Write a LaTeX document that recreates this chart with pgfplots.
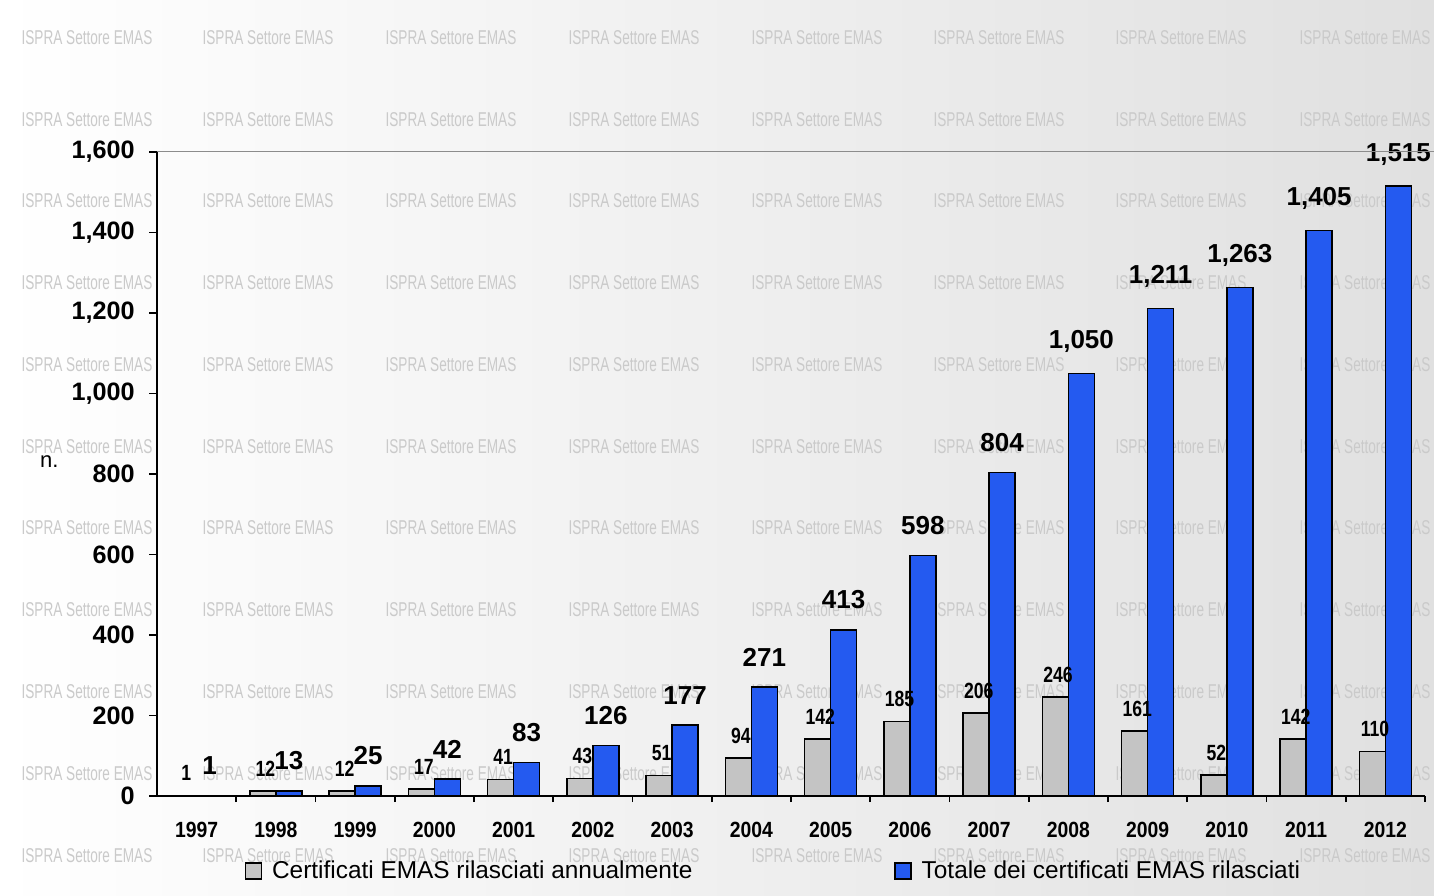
\documentclass[border=0pt]{standalone}
\usepackage{fontspec}
\setmainfont{Liberation Sans}
\usepackage{pgfplots}
\pgfplotsset{compat=1.18}

\definecolor{annualfill}{RGB}{196,196,196}
\definecolor{totalfill}{RGB}{36,90,240}
\definecolor{wmark}{RGB}{202,202,202}

% annual certificates and running total, 1997-2012 (x = 0..15)
\pgfplotstableread{
x annual total
0 1 1
1 12 13
2 12 25
3 17 42
4 41 83
5 43 126
6 51 177
7 94 271
8 142 413
9 185 598
10 206 804
11 246 1050
12 161 1211
13 52 1263
14 142 1405
15 110 1515
}\emasdata

\begin{document}
\begin{tikzpicture}
\useasboundingbox (0,0) rectangle (717pt,447.5pt);
% background: white on the left fading to light grey on the right
\shade[left color=white, right color={rgb,255:red,224;green,224;blue,224}] (0,0) rectangle (717pt,447.5pt);
% repeated watermark
\foreach \cx in {87,268,451,634,817,999,1181,1365}{
  \foreach \cy in {38,120,201,283,365,447,528,610,692,774,856}{
    \node[text=wmark, xscale=0.68, inner sep=0pt, font=\fontsize{10}{10}\selectfont]
      at (\cx*0.5pt, 447.5pt-\cy*0.5pt) {ISPRA Settore EMAS};
  }
}
\begin{axis}[
  at={(78.5pt,49.5pt)}, anchor=south west,
  scale only axis, width=634pt, height=322pt,
  xmin=-0.5, xmax=15.5, ymin=0, ymax=1600,
  axis x line*=bottom, axis y line*=left,
  axis line style={line width=0.8pt, black},
  tick align=outside,
  major tick length=4pt, minor tick length=3pt,
  xtick={0,...,15},
  xticklabels={1997,1998,1999,2000,2001,2002,2003,2004,2005,2006,2007,2008,2009,2010,2011,2012},
  major x tick style={draw=none},
  minor xtick={0.5,1.5,...,15.5},
  minor x tick style={draw=black, line width=0.8pt},
  ytick={0,200,...,1600},
  yticklabels={0,200,400,600,800,{1,000},{1,200},{1,400},{1,600}},
  y tick style={line width=0.8pt, black},
  xticklabel style={font=\bfseries\fontsize{11}{11}\selectfont, xscale=0.88, anchor=north, inner sep=0pt, yshift=-9pt},
  yticklabel style={font=\bfseries\fontsize{12.6}{12.6}\selectfont, anchor=east, inner sep=0pt, xshift=-7pt},
  ylabel={n.},
  ylabel style={rotate=-90, at={(rel axis cs:-0.085,0.519)}, anchor=center, font=\fontsize{11}{11}\selectfont},
  /pgf/number format/assume math mode=true,
  legend style={draw=none, fill=none, legend columns=2, inner sep=0pt,
    at={(rel axis cs:0.069,-0.1165)}, anchor=west,
    font=\fontsize{12.2}{13}\selectfont,
    /tikz/every odd column/.append style={column sep=3pt},
    /tikz/every even column/.append style={column sep=99pt}},
  legend cell align=left,
  legend image code/.code={\draw[#1, line width=0.6pt] (0pt,-4pt) rectangle (8pt,4pt);},
  after end axis/.code={\draw[black!45, line width=0.5pt] (rel axis cs:0,1) -- (rel axis cs:1.02,1);},
]
\addplot[ybar, bar width=13pt, bar shift=-6.5pt, fill=annualfill, draw=black, line width=0.75pt,
  nodes near coords, point meta=explicit,
  every node near coord/.style={font=\bfseries\fontsize{11}{11}\selectfont, xscale=0.8, anchor=south, inner sep=0pt, xshift=-6.5pt, yshift=7pt, text=black}]
  table[x=x, y=annual, meta=annual] {\emasdata};
\addlegendentry{Certificati EMAS rilasciati annualmente}
\addplot[ybar, bar width=13pt, bar shift=6.5pt, fill=totalfill, draw=black, line width=0.75pt,
  nodes near coords, point meta=explicit,
  nodes near coords={\pgfmathprintnumber[1000 sep={,}]{\pgfplotspointmeta}},
  every node near coord/.style={font=\bfseries\fontsize{13}{13}\selectfont, anchor=south, inner sep=0pt, xshift=6.5pt, yshift=10pt, text=black}]
  table[x=x, y=total, meta=total] {\emasdata};
\addlegendentry{Totale dei certificati EMAS rilasciati}
\end{axis}
\end{tikzpicture}
\end{document}
